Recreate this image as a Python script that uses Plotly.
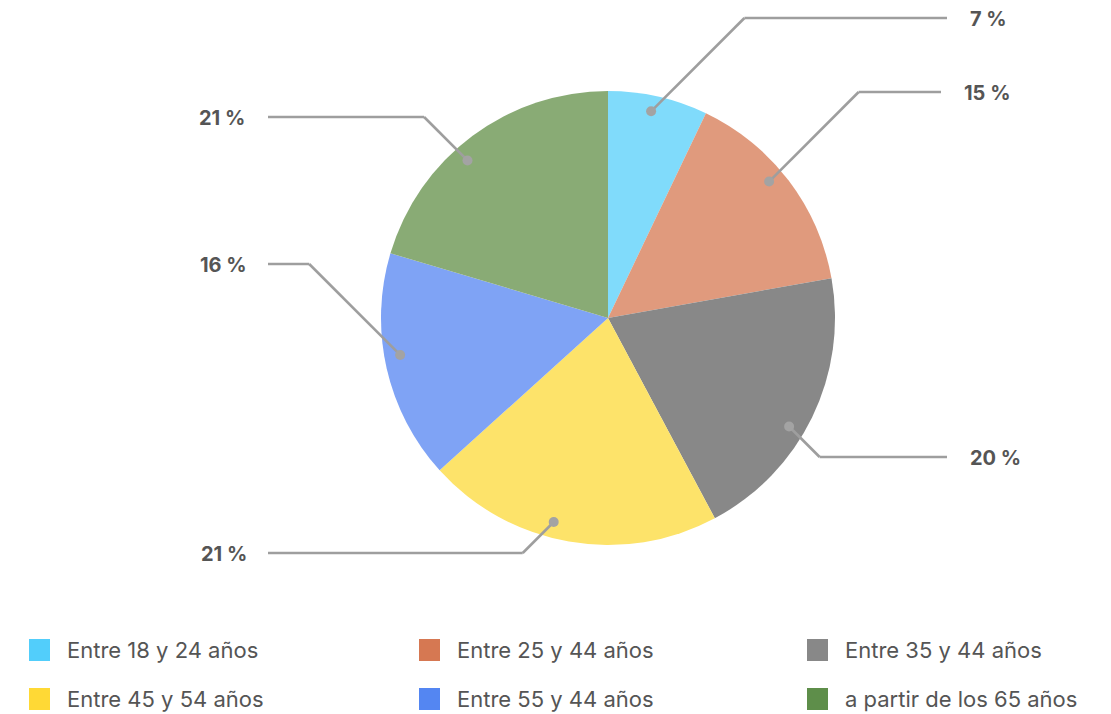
import math
import plotly.graph_objects as go

# ---- data ----
categories = ["Entre 18 y 24 años", "Entre 25 y 44 años", "Entre 35 y 44 años",
              "Entre 45 y 54 años", "Entre 55 y 44 años", "a partir de los 65 años"]
values = [7.1, 15.1, 20.0, 21.1, 16.3, 20.4]
label_texts = ["7 %", "15 %", "20 %", "21 %", "16 %", "21 %"]
pie_colors = ["#80DBFB", "#E09A7D", "#888888", "#FDE36A", "#7FA3F5", "#89AB75"]
legend_colors = ["#52CEFB", "#D67852", "#888888", "#FFD935", "#5486F2", "#5E8E4A"]

# ---- layout constants (screen pixels; page body has an 8px offset) ----
OFF = 8
W, H = 1111 - OFF, 714 - OFF
CX, CY, R = 608, 318, 227
DOT_R = 0.93  # relative radius of leader dots
# label side, label y, end x of horizontal leader, text x, angular nudge of the dot (deg)
label_layout = [
    ("right", 18, 947, 968, -1.0),
    ("right", 92, 941, 962, -3.0),
    ("right", 457, 947, 968, 5.0),
    ("left", 553, 268, 249, 5.0),
    ("left", 264, 268, 249, 2.7),
    ("left", 117, 268, 247, -5.0),
]

def px(x):
    return (x - OFF) / W

def py(y):
    return 1 - (y - OFF) / H

fig = go.Figure()
fig.add_trace(go.Pie(
    labels=categories, values=values, sort=False, direction="clockwise", rotation=0,
    marker=dict(colors=pie_colors, line=dict(width=0)),
    textinfo="none", showlegend=False, hoverinfo="label+percent",
    domain=dict(x=[px(CX - R), px(CX + R)], y=[py(CY + R), py(CY - R)]),
))

shapes = []
annotations = []
total = sum(values)
cum = 0
line_col = "#9E9E9E"
for v, txt, (side, ly, ex, tx, nudge) in zip(values, label_texts, label_layout):
    mid = (cum + v / 2) / total * 2 * math.pi + math.radians(nudge)
    cum += v
    dx = CX + R * DOT_R * math.sin(mid)
    dy = CY - R * DOT_R * math.cos(mid)
    d = abs(dy - ly)
    elx = dx + d if side == "right" else dx - d
    shapes.append(dict(type="line", xref="paper", yref="paper", x0=px(dx), y0=py(dy),
                       x1=px(elx), y1=py(ly), line=dict(color=line_col, width=2.6)))
    shapes.append(dict(type="line", xref="paper", yref="paper", x0=px(elx), y0=py(ly),
                       x1=px(ex), y1=py(ly), line=dict(color=line_col, width=2.6)))
    rr = 5
    shapes.append(dict(type="circle", xref="paper", yref="paper",
                       x0=px(dx - rr), x1=px(dx + rr), y0=py(dy + rr), y1=py(dy - rr),
                       fillcolor="#A3A3A3", line=dict(width=0)))
    annotations.append(dict(xref="paper", yref="paper", x=px(tx), y=py(ly + 1),
                            text="<b>" + txt + "</b>", showarrow=False,
                            xanchor="left" if side == "right" else "right", yanchor="middle",
                            font=dict(family="Inter", size=20, color="#555555")))

# ---- manual legend ----
col_x = [29, 419, 807]
row_y = [650, 699]
for i, (cat, col) in enumerate(zip(categories, legend_colors)):
    c = i % 3
    r = i // 3
    x0 = col_x[c]
    yc = row_y[r]
    shapes.append(dict(type="rect", xref="paper", yref="paper",
                       x0=px(x0), x1=px(x0 + 21), y0=py(yc + 11), y1=py(yc - 11),
                       fillcolor=col, line=dict(width=0)))
    annotations.append(dict(xref="paper", yref="paper", x=px(x0 + 36), y=py(yc),
                            text=cat, showarrow=False, xanchor="left", yanchor="middle",
                            font=dict(family="Inter", size=22, color="#555555")))

fig.update_layout(
    width=W, height=H, margin=dict(l=0, r=0, t=0, b=0),
    paper_bgcolor="white", plot_bgcolor="white",
    shapes=shapes, annotations=annotations, showlegend=False,
)

fig.write_html("out.html")
